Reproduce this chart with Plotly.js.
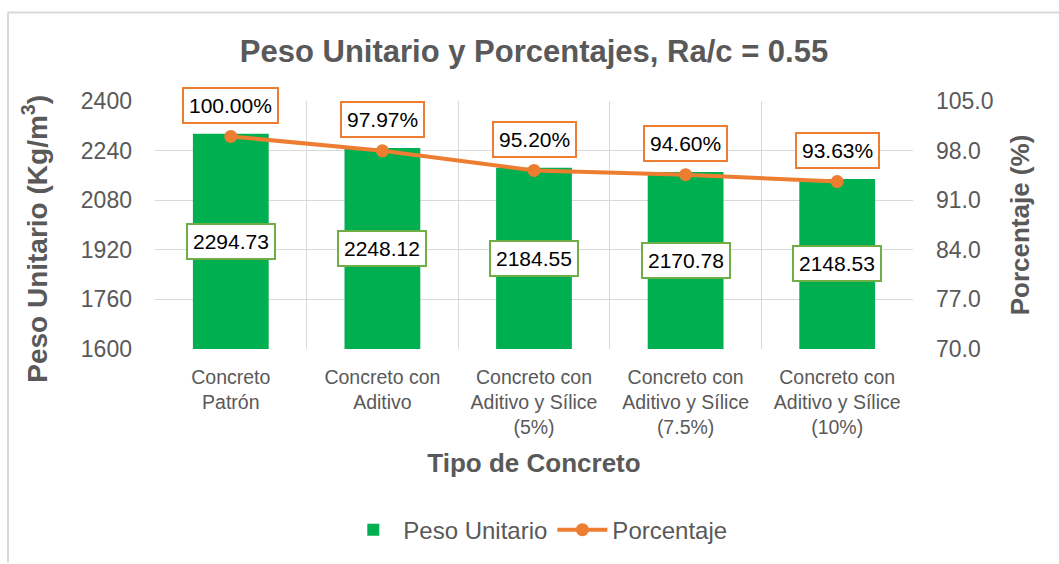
<!DOCTYPE html>
<html>
<head>
<meta charset="utf-8">
<script src="https://cdn.plot.ly/plotly-3.0.1.min.js"></script>
<style>
  html, body { margin: 0; padding: 0; background: #ffffff; }
  #chart { width: 1059px; height: 564px; }
</style>
</head>
<body>
<div id="chart"></div>
<script>
const categories = [
  "Concreto<br>Patrón",
  "Concreto con<br>Aditivo",
  "Concreto con<br>Aditivo y Sílice<br>(5%)",
  "Concreto con<br>Aditivo y Sílice<br>(7.5%)",
  "Concreto con<br>Aditivo y Sílice<br>(10%)"
];
const pesoUnitario = [2294.73, 2248.12, 2184.55, 2170.78, 2148.53];
const porcentaje = [100.00, 97.97, 95.20, 94.60, 93.63];
const leftTicks = [1600, 1760, 1920, 2080, 2240, 2400];
const rightTicks = [70, 77, 84, 91, 98, 105];

const FONT = 'Arial, "Liberation Sans", sans-serif';
const GRAY = '#595959';
const GREEN = '#00B050';
const ORANGE = '#ED7D31';
const LABEL_GREEN = '#70AD47';

const barTrace = {
  type: 'bar',
  name: 'Peso Unitario',
  x: categories,
  y: pesoUnitario.map(v => v - leftTicks[0]),
  base: leftTicks[0],
  marker: { color: GREEN },
  width: 0.5,
  hoverinfo: 'skip'
};

const lineTrace = {
  type: 'scatter',
  mode: 'lines+markers',
  name: 'Porcentaje',
  x: categories,
  y: porcentaje,
  yaxis: 'y2',
  line: { color: ORANGE, width: 4 },
  marker: { color: ORANGE, size: 13 },
  hoverinfo: 'skip'
};

const annotations = [];
categories.forEach((c, i) => {
  annotations.push({
    x: c, y: (pesoUnitario[i] + leftTicks[0]) / 2, xref: 'x', yref: 'y',
    text: pesoUnitario[i].toFixed(2), showarrow: false,
    font: { family: FONT, size: 21, color: '#000000' },
    bgcolor: '#ffffff', bordercolor: LABEL_GREEN, borderwidth: 2, borderpad: 5
  });
  annotations.push({
    x: c, y: porcentaje[i], xref: 'x', yref: 'y2',
    text: porcentaje[i].toFixed(2) + '%', showarrow: false, yshift: 31,
    font: { family: FONT, size: 21, color: '#000000' },
    bgcolor: '#ffffff', bordercolor: ORANGE, borderwidth: 2, borderpad: 5
  });
});

// left axis title (placed as rotated text, centred where the reference draws it)
annotations.push({
  xref: 'paper', yref: 'paper',
  x: (35 - 155) / 758, y: (353 - 241) / 252,
  xanchor: 'center', yanchor: 'middle', textangle: -90, showarrow: false,
  text: '<b>Peso Unitario (Kg/m<sup>3</sup>)</b>',
  font: { family: FONT, size: 28, color: GRAY }
});

const layout = {
  width: 1059, height: 564,
  margin: { l: 155, r: 146, t: 101, b: 211 },
  paper_bgcolor: '#ffffff',
  plot_bgcolor: '#ffffff',
  font: { family: FONT, color: GRAY },
  title: {
    text: '<b>Peso Unitario y Porcentajes, Ra/c = 0.55</b>',
    font: { family: FONT, size: 31, color: GRAY },
    xref: 'paper', x: 0.5, xanchor: 'center',
    yref: 'container', y: 1 - 51 / 564, yanchor: 'middle'
  },
  showlegend: true,
  legend: {
    orientation: 'h', x: 0.505, xanchor: 'center', y: -0.73, yanchor: 'middle',
    font: { family: FONT, size: 24, color: GRAY },
    itemwidth: 50, tracegroupgap: 0
  },
  xaxis: {
    type: 'category',
    tickson: 'boundaries',
    showgrid: true, gridcolor: '#d9d9d9', gridwidth: 1,
    ticks: '', showline: false, zeroline: false,
    ticklabelstandoff: 14,
    tickfont: { family: FONT, size: 19.5, color: GRAY },
    title: { text: '<b>Tipo de Concreto</b>', font: { family: FONT, size: 26, color: GRAY }, standoff: 16 }
  },
  yaxis: {
    range: [leftTicks[0], leftTicks[leftTicks.length - 1]],
    tickvals: leftTicks,
    showgrid: true, gridcolor: '#d9d9d9', gridwidth: 1,
    zeroline: false, showline: false, ticks: '',
    ticklabelstandoff: 22,
    tickfont: { family: FONT, size: 23, color: GRAY }
  },
  yaxis2: {
    overlaying: 'y', side: 'right',
    range: [rightTicks[0], rightTicks[rightTicks.length - 1]],
    tickvals: rightTicks, tickformat: '.1f',
    showgrid: false, zeroline: false, showline: false, ticks: '',
    ticklabelstandoff: 22,
    tickfont: { family: FONT, size: 23, color: GRAY },
    title: { text: '<b>Porcentaje (%)</b>', font: { family: FONT, size: 26, color: GRAY }, standoff: 18 }
  },
  annotations: annotations,
  shapes: [
    { type: 'line', xref: 'paper', yref: 'paper',
      x0: (8 - 155) / 758, x1: (1060 - 155) / 758, y0: (353 - 11) / 252, y1: (353 - 11) / 252,
      line: { color: '#d9d9d9', width: 2 } },
    { type: 'line', xref: 'paper', yref: 'paper',
      x0: (8 - 155) / 758, x1: (8 - 155) / 758, y0: (353 - 11) / 252, y1: (353 - 570) / 252,
      line: { color: '#d9d9d9', width: 2 } }
  ]
};

Plotly.newPlot('chart', [barTrace, lineTrace], layout, { displayModeBar: false, staticPlot: true });
</script>
</body>
</html>
